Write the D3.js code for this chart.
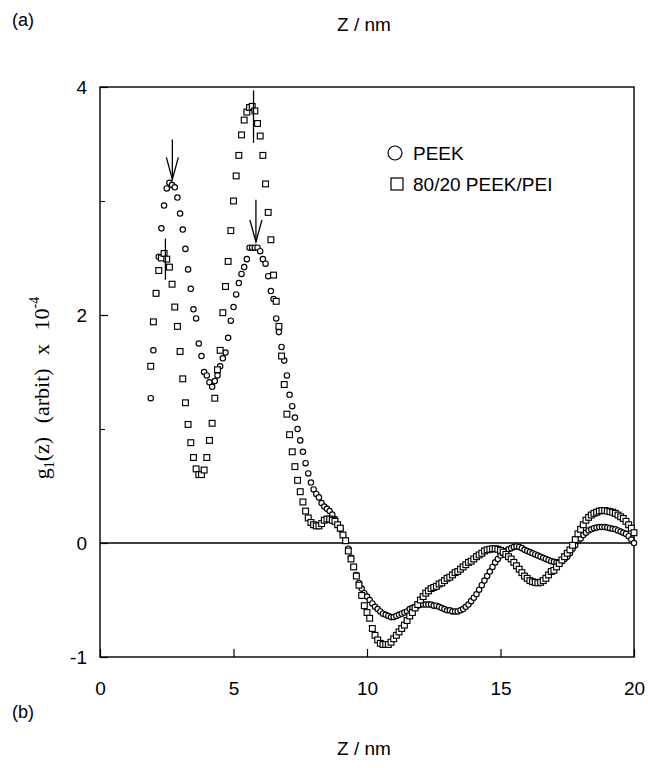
<!DOCTYPE html>
<html>
<head>
<meta charset="utf-8">
<script src="https://cdn.jsdelivr.net/npm/d3@7"></script>
<style>
  html, body { margin: 0; padding: 0; background: #fff; }
  svg { display: block; }
</style>
</head>
<body>
<svg id="chart" width="648" height="768"></svg>
<script>
// ---- data ----
const zNm = [
  1.9,2.0,2.1,2.2,2.3,2.4,2.5,2.6,2.7,2.8,2.9,3.0,3.1,3.2,3.3,3.4,3.5,3.6,3.7,3.8,3.9,
  4.0,4.1,4.2,4.3,4.4,4.5,4.6,4.7,4.8,4.9,5.0,5.1,5.2,5.3,5.4,5.5,5.6,5.7,5.8,5.9,
  6.0,6.1,6.2,6.3,6.4,6.5,6.6,6.7,6.8,6.9,7.0,7.1,7.2,7.3,7.4,7.5,7.6,7.7,7.8,7.9,
  8.0,8.1,8.2,8.3,8.4,8.5,8.6,8.7,8.8,8.9,9.0,9.1,9.2,9.3,9.4,9.5,9.6,9.7,9.8,9.9,
  10.0,10.1,10.2,10.3,10.4,10.5,10.6,10.7,10.8,10.9,11.0,11.1,11.2,11.3,11.4,11.5,11.6,11.7,11.8,11.9,
  12.0,12.1,12.2,12.3,12.4,12.5,12.6,12.7,12.8,12.9,13.0,13.1,13.2,13.3,13.4,13.5,13.6,13.7,13.8,13.9,
  14.0,14.1,14.2,14.3,14.4,14.5,14.6,14.7,14.8,14.9,15.0,15.1,15.2,15.3,15.4,15.5,15.6,15.7,15.8,15.9,
  16.0,16.1,16.2,16.3,16.4,16.5,16.6,16.7,16.8,16.9,17.0,17.1,17.2,17.3,17.4,17.5,17.6,17.7,17.8,17.9,
  18.0,18.1,18.2,18.3,18.4,18.5,18.6,18.7,18.8,18.9,19.0,19.1,19.2,19.3,19.4,19.5,19.6,19.7,19.8,19.9,
  20.0
];

// PEEK (open circles)
const peek = [
  1.27,1.69,2.19,2.51,2.76,2.96,3.11,3.16,3.14,3.12,3.03,2.89,2.75,2.58,2.40,2.23,2.05,1.97,1.75,1.64,1.50,
  1.47,1.41,1.37,1.42,1.47,1.55,1.62,1.67,1.80,1.95,2.07,2.18,2.28,2.36,2.42,2.49,2.59,2.59,2.59,2.59,
  2.56,2.49,2.45,2.34,2.21,2.14,1.97,1.85,1.72,1.60,1.47,1.30,1.20,1.10,1.00,0.90,0.80,0.70,0.61,0.53,
  0.47,0.43,0.40,0.35,0.32,0.30,0.28,0.25,0.21,0.16,0.12,0.07,0.02,-0.05,-0.13,-0.21,-0.28,-0.35,-0.40,-0.44,
  -0.47,-0.50,-0.53,-0.56,-0.58,-0.60,-0.62,-0.63,-0.64,-0.65,-0.65,-0.64,-0.63,-0.62,-0.61,-0.60,-0.58,-0.57,-0.56,-0.55,
  -0.54,-0.54,-0.54,-0.54,-0.54,-0.55,-0.55,-0.56,-0.57,-0.58,-0.59,-0.59,-0.60,-0.60,-0.60,-0.59,-0.58,-0.56,-0.54,-0.51,
  -0.48,-0.45,-0.41,-0.37,-0.33,-0.29,-0.25,-0.21,-0.17,-0.14,-0.11,-0.09,-0.07,-0.055,-0.045,-0.035,-0.03,-0.035,-0.045,-0.06,
  -0.07,-0.08,-0.09,-0.10,-0.11,-0.12,-0.13,-0.14,-0.15,-0.16,-0.165,-0.17,-0.17,-0.16,-0.14,-0.12,-0.09,-0.05,-0.02,0.02,
  0.04,0.07,0.09,0.11,0.12,0.13,0.135,0.14,0.14,0.14,0.135,0.13,0.125,0.12,0.11,0.10,0.09,0.08,0.06,0.03,
  0.0
];

// 80/20 PEEK/PEI (open squares)
const blend = [
  1.55,1.94,2.19,2.39,2.50,2.54,2.49,2.42,2.27,2.07,1.90,1.68,1.44,1.23,1.04,0.88,0.75,0.65,0.60,0.60,0.64,
  0.75,0.90,1.05,1.27,1.52,1.69,2.02,2.25,2.47,2.74,3.00,3.22,3.40,3.58,3.71,3.78,3.82,3.83,3.79,3.68,
  3.57,3.40,3.15,2.90,2.66,2.35,2.12,1.90,1.64,1.39,1.13,0.95,0.80,0.67,0.55,0.45,0.36,0.28,0.22,0.18,
  0.16,0.15,0.15,0.17,0.20,0.21,0.21,0.20,0.19,0.16,0.13,0.07,0.02,-0.07,-0.14,-0.21,-0.29,-0.37,-0.46,-0.55,
  -0.61,-0.66,-0.75,-0.81,-0.85,-0.88,-0.89,-0.89,-0.89,-0.87,-0.84,-0.81,-0.78,-0.75,-0.72,-0.68,-0.64,-0.61,-0.57,-0.54,
  -0.50,-0.47,-0.44,-0.42,-0.40,-0.39,-0.38,-0.36,-0.35,-0.33,-0.31,-0.30,-0.28,-0.26,-0.25,-0.23,-0.21,-0.19,-0.17,-0.16,
  -0.14,-0.12,-0.105,-0.09,-0.07,-0.06,-0.055,-0.05,-0.05,-0.055,-0.065,-0.08,-0.10,-0.12,-0.14,-0.17,-0.20,-0.23,-0.26,-0.29,
  -0.31,-0.33,-0.34,-0.345,-0.35,-0.345,-0.33,-0.31,-0.28,-0.25,-0.24,-0.21,-0.18,-0.15,-0.12,-0.09,-0.06,-0.02,0.03,0.08,
  0.12,0.16,0.20,0.225,0.245,0.26,0.27,0.28,0.285,0.285,0.28,0.275,0.27,0.26,0.245,0.23,0.215,0.19,0.16,0.13,
  0.09
];

const seriesNames = ["PEEK", "80/20 PEEK/PEI"];
const xTicks = [0, 5, 10, 15, 20];
const yTicks = [4, 2, 0, -1];
const yMinorTicks = [3, 1];

// annotation arrows / marker lines, in data units (z, g)
const arrows = [
  { z: 2.71, top: 3.54, tip: 3.19 },
  { z: 5.84, top: 3.01, tip: 2.64 }
];
const markLines = [
  { z: 2.45, top: 2.67, bottom: 2.31 },
  { z: 5.75, top: 3.97, bottom: 3.51 }
];

// ---- drawing ----
const svg = d3.select("#chart");
const x = d3.scaleLinear().domain([0, 20]).range([100, 634]);
const y = d3.scaleLinear().domain([-1, 4]).range([657, 87]);

const sans = "'Liberation Sans', Arial, Helvetica, sans-serif";
const serif = "'Liberation Serif', 'Times New Roman', serif";

// frame
svg.append("rect")
  .attr("x", x(0)).attr("y", y(4))
  .attr("width", x(20) - x(0)).attr("height", y(-1) - y(4))
  .attr("fill", "none").attr("stroke", "#000").attr("stroke-width", 1.4);

// axes
const yAxis = svg.append("g").attr("transform", `translate(${x(0)},0)`)
  .call(d3.axisLeft(y).tickValues(yTicks).tickSize(-8).tickPadding(13)
        .tickFormat(d => d === -1 ? "-1" : String(d)));
yAxis.select(".domain").remove();
yAxis.selectAll("text").attr("font-family", sans).attr("font-size", 19).attr("fill", "#000");
yAxis.selectAll("line").attr("stroke", "#000").attr("stroke-width", 1.2);

const yMinor = svg.append("g").attr("transform", `translate(${x(0)},0)`)
  .call(d3.axisLeft(y).tickValues(yMinorTicks).tickSize(-5).tickFormat(""));
yMinor.select(".domain").remove();
yMinor.selectAll("line").attr("stroke", "#000").attr("stroke-width", 1);

const xAxis = svg.append("g").attr("transform", `translate(0,${y(-1)})`)
  .call(d3.axisBottom(x).tickValues(xTicks).tickSize(-8).tickPadding(25));
xAxis.select(".domain").remove();
xAxis.selectAll("text").attr("font-family", sans).attr("font-size", 19).attr("fill", "#000");
xAxis.selectAll("line").attr("stroke", "#000").attr("stroke-width", 1.2);

// zero line
svg.append("line")
  .attr("x1", x(0)).attr("x2", x(20)).attr("y1", y(0)).attr("y2", y(0))
  .attr("stroke", "#000").attr("stroke-width", 1.4);

const peekData = zNm.map((z, i) => ({ z, g: peek[i] }));
const blendData = zNm.map((z, i) => ({ z, g: blend[i] }));

// circles
svg.append("g").selectAll("circle").data(peekData).join("circle")
  .attr("cx", d => x(d.z)).attr("cy", d => y(d.g)).attr("r", 2.7)
  .attr("fill", "#fff").attr("stroke", "#000").attr("stroke-width", 1.15);

// squares
const sq = 5.8;
svg.append("g").selectAll("rect").data(blendData).join("rect")
  .attr("x", d => x(d.z) - sq / 2).attr("y", d => y(d.g) - sq / 2)
  .attr("width", sq).attr("height", sq)
  .attr("fill", "#fff").attr("stroke", "#000").attr("stroke-width", 1.15);

// annotation lines
const ann = svg.append("g").attr("stroke", "#000").attr("stroke-width", 1.3).attr("fill", "none");
markLines.forEach(m => {
  ann.append("line").attr("x1", x(m.z)).attr("x2", x(m.z))
    .attr("y1", y(m.top)).attr("y2", y(m.bottom));
});
arrows.forEach(a => {
  const ax = x(a.z), ty = y(a.tip);
  ann.append("line").attr("x1", ax).attr("x2", ax).attr("y1", y(a.top)).attr("y2", ty);
  ann.append("path").attr("d", `M${ax - 6},${ty - 22} L${ax},${ty} L${ax + 6},${ty - 22}`);
});

// legend
const lg = svg.append("g");
lg.append("circle").attr("cx", 395).attr("cy", 153).attr("r", 7)
  .attr("fill", "#fff").attr("stroke", "#000").attr("stroke-width", 1.2);
lg.append("text").attr("x", 413).attr("y", 160).text(seriesNames[0])
  .attr("font-family", sans).attr("font-size", 19);
lg.append("rect").attr("x", 391).attr("y", 178).attr("width", 12).attr("height", 12)
  .attr("fill", "#fff").attr("stroke", "#000").attr("stroke-width", 1.2);
lg.append("text").attr("x", 413).attr("y", 191).text(seriesNames[1])
  .attr("font-family", sans).attr("font-size", 19);

// texts
svg.append("text").attr("x", 12).attr("y", 26).text("(a)")
  .attr("font-family", sans).attr("font-size", 18);
svg.append("text").attr("x", 364).attr("y", 31).attr("text-anchor", "middle").text("Z / nm")
  .attr("font-family", sans).attr("font-size", 19);
svg.append("text").attr("x", 12).attr("y", 718).text("(b)")
  .attr("font-family", sans).attr("font-size", 18);
svg.append("text").attr("x", 364).attr("y", 755).attr("text-anchor", "middle").text("Z / nm")
  .attr("font-family", sans).attr("font-size", 19);

// y label
const yl = svg.append("text")
  .attr("transform", "translate(49,388) rotate(-90)")
  .attr("text-anchor", "middle")
  .attr("font-family", serif).attr("font-size", 22)
  .attr("word-spacing", 8);
yl.append("tspan").text("g");
yl.append("tspan").attr("font-size", 14).attr("dy", 5).text("1");
yl.append("tspan").attr("dy", -5).text("(z) (arbit) x 10");
yl.append("tspan").attr("font-size", 14).attr("dy", -10).text("-4");
</script>
</body>
</html>
